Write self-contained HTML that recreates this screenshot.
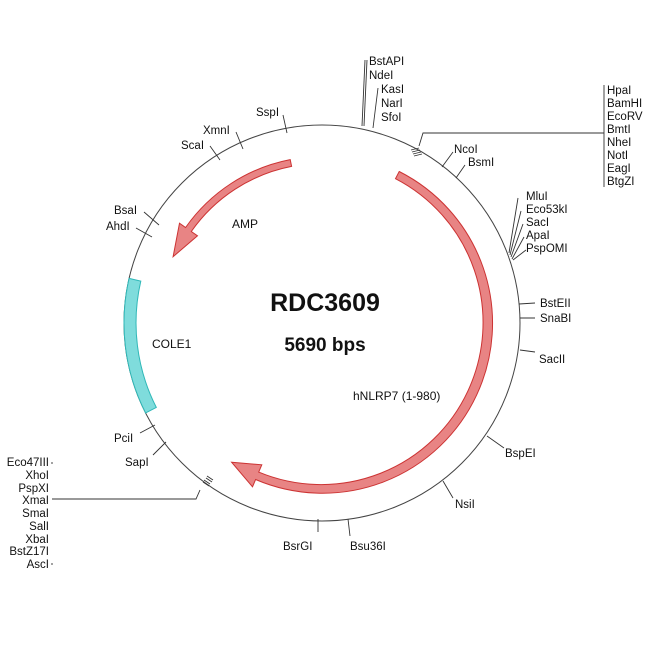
<!DOCTYPE html>
<html><head><meta charset="utf-8"><style>
html,body{margin:0;padding:0;background:#fff;}
svg{display:block;}
text{font-family:"Liberation Sans",Arial,sans-serif;font-size:11.5px;fill:#111;}
</style></head><body>
<svg width="650" height="650" viewBox="0 0 650 650" xmlns="http://www.w3.org/2000/svg">
<circle cx="322" cy="323" r="198" fill="none" stroke="#444" stroke-width="1"/>
<!-- hNLRP7 -->
<path d="M399.2,171.5 A170,170 0 0 1 255.6,479.5 L252.5,486.8 L231.6,462.2 L261.8,464.8 L258.7,472.1 A162,162 0 0 0 395.5,178.7 Z" fill="#e88484" stroke="#cc3333" stroke-width="1"/>
<!-- AMP -->
<path d="M290.2,159.6 A166.5,166.5 0 0 0 185.6,227.5 L179.5,223.2 L173.1,256.7 L197.5,235.8 L191.3,231.5 A159.5,159.5 0 0 1 291.6,166.4 Z" fill="#e88484" stroke="#cc3333" stroke-width="1"/>
<!-- COLE1 -->
<path d="M129.1,278.4 A198,198 0 0 0 145.6,412.9 L156.3,407.4 A186,186 0 0 1 140.8,281.1 Z" fill="#7fdcdc" stroke="#30b8b8" stroke-width="1"/>

<g stroke="#333" stroke-width="0.9" fill="none">
<path d="M362,126 L365,60 M364,126 L367,60"/>
<path d="M373,128 L378,88"/>
<path d="M419,146 L423,133 L604,133 M604,85 L604,187"/>
<path d="M411,150 l8,-2 M412,152 l8,-2 M413,154 l8,-2 M414,156 l8,-2"/>
<path d="M442,167 L453,152 M456,178 L465,165"/>
<path d="M509,253 L518,198 M510,255 L521,211 M511,257 L523,224 M512,259 L524,237 M513,260 L526,250"/>
<path d="M519,304 L535,303 M520,318 L535,318 M520,350 L535,352"/>
<path d="M487,436 L504,448 M443,481 L453,498"/>
<path d="M348,519 L350,536 M318,519 L318,532"/>
<path d="M166,442 L153,455 M155,425 L140,433"/>
<path d="M200,490 L196,499 L52,499 M52,462 L52,464 M52,563 L52,565"/>
<path d="M203,482 l6,4 M204,480 l6,4 M206,478 l6,4 M207,476 l6,4"/>
<path d="M159,225 L144,212 M152,237 L136,228"/>
<path d="M220,160 L210,146 M243,149 L236,132 M287,133 L283,115"/>
</g>

<text x="369" y="65">BstAPI</text>
<text x="369" y="79">NdeI</text>
<text x="381" y="93">KasI</text>
<text x="381" y="107">NarI</text>
<text x="381" y="121">SfoI</text>
<g>
<text x="607" y="94">HpaI</text>
<text x="607" y="107">BamHI</text>
<text x="607" y="120">EcoRV</text>
<text x="607" y="133">BmtI</text>
<text x="607" y="146">NheI</text>
<text x="607" y="159">NotI</text>
<text x="607" y="172">EagI</text>
<text x="607" y="185">BtgZI</text>
</g>
<text x="454" y="153">NcoI</text>
<text x="468" y="166">BsmI</text>
<text x="526" y="200">MluI</text>
<text x="526" y="213">Eco53kI</text>
<text x="526" y="226">SacI</text>
<text x="526" y="239">ApaI</text>
<text x="526" y="252">PspOMI</text>
<text x="540" y="307">BstEII</text>
<text x="540" y="322">SnaBI</text>
<text x="539" y="363">SacII</text>
<text x="505" y="457">BspEI</text>
<text x="455" y="508">NsiI</text>
<text x="350" y="550">Bsu36I</text>
<text x="283" y="550">BsrGI</text>
<text x="125" y="466">SapI</text>
<text x="114" y="442">PciI</text>
<g text-anchor="end">
<text x="49" y="466">Eco47III</text>
<text x="49" y="479">XhoI</text>
<text x="49" y="492">PspXI</text>
<text x="49" y="504">XmaI</text>
<text x="49" y="517">SmaI</text>
<text x="49" y="530">SalI</text>
<text x="49" y="543">XbaI</text>
<text x="49" y="555">BstZ17I</text>
<text x="49" y="568">AscI</text>
</g>
<text x="114" y="214">BsaI</text>
<text x="106" y="230">AhdI</text>
<text x="181" y="149">ScaI</text>
<text x="203" y="134">XmnI</text>
<text x="256" y="116">SspI</text>
<text x="232" y="228" style="font-size:12px">AMP</text>
<text x="152" y="348" style="font-size:12px">COLE1</text>
<text x="353" y="400" style="font-size:12px">hNLRP7 (1-980)</text>
<text x="325" y="311" text-anchor="middle" style="font-size:25px;font-weight:bold">RDC3609</text>
<text x="325" y="351" text-anchor="middle" style="font-size:19px;font-weight:bold">5690 bps</text>
</svg>
</body></html>
